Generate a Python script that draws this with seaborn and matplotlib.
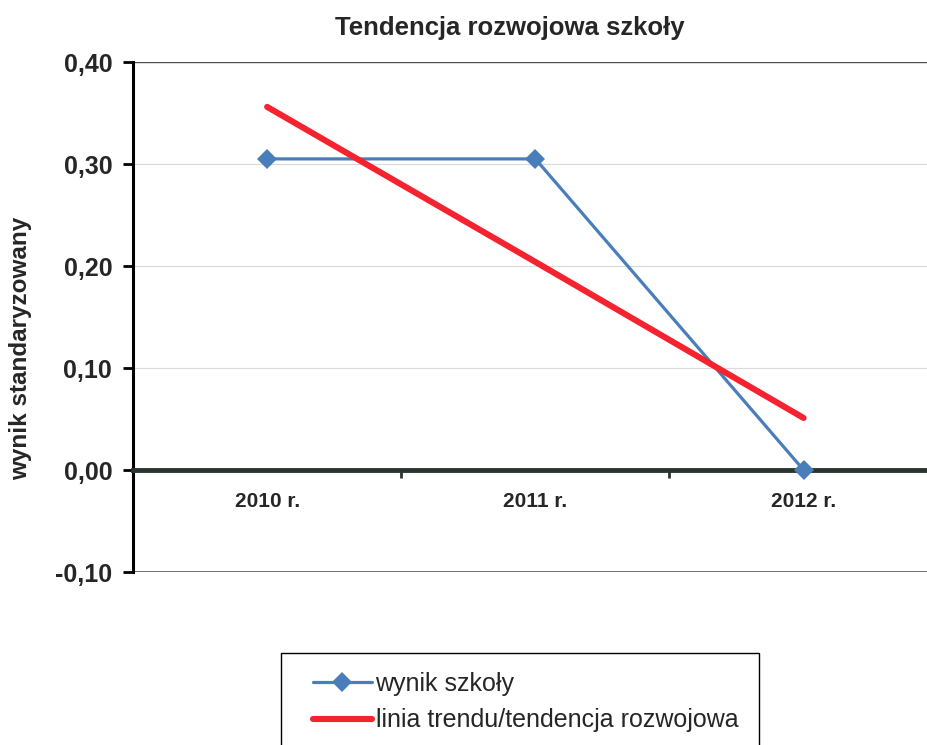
import numpy as np
import pandas as pd
import matplotlib
matplotlib.use("Agg")
import matplotlib.pyplot as plt
from matplotlib.patches import Rectangle
import seaborn as sns

years = ["2010 r.", "2011 r.", "2012 r."]
school = [0.305, 0.305, 0.0]
trend = [0.356, 0.204, 0.051]
yticks = [-0.10, 0.0, 0.10, 0.20, 0.30, 0.40]
ytick_labels = ["-0,10", "0,00", "0,10", "0,20", "0,30", "0,40"]

sns.set_style("white")
plt.rcParams["font.family"] = ["Liberation Sans", "DejaVu Sans"]

df = pd.DataFrame({"rok": years, "wynik": school, "trend": trend})

fig = plt.figure(figsize=(9.27, 7.45), dpi=100)
ax = fig.add_axes([133 / 927, 1 - 572 / 745, 1 - 133 / 927, (572 - 62) / 745])

# =============================== lines ===============================
sns.lineplot(x="rok", y="wynik", data=df, ax=ax, color="#4A7EBB", linewidth=2.3,
             marker="D", markersize=10.5, markeredgewidth=0, label="wynik szkoły", zorder=4)
sns.lineplot(x="rok", y="trend", data=df, ax=ax, color="#F4232F", linewidth=4.4,
             solid_capstyle="round", label="linia trendu/tendencja rozwojowa", zorder=5)

ax.set_xlim(-0.5, 2.46)
ax.set_ylim(-0.10, 0.40)
ax.set_xlabel("")
ax.set_ylabel("")

# y axis
ax.set_yticks(yticks)
ax.set_yticklabels(ytick_labels, fontsize=18, fontweight="bold")
ax.tick_params(axis="y", direction="out", length=7, width=2, color="black", pad=8, left=True)
ax.yaxis.grid(True, color="#d9d9d9", linewidth=0.8)
gl = ax.get_ygridlines()
gl[0].set_color("#6f6f6f")
gl[0].set_linewidth(1.4)
gl[-1].set_color("#4d4d4d")
gl[-1].set_linewidth(1.0)

# x axis at zero
ax.spines["bottom"].set_position(("data", 0))
ax.spines["bottom"].set_linewidth(3.5)
ax.spines["bottom"].set_color("#2a3530")
ax.spines["left"].set_linewidth(2.2)
ax.spines["left"].set_color("black")
ax.spines["top"].set_visible(False)
ax.spines["right"].set_visible(False)
ax.set_xticks([0, 1, 2])
ax.set_xticklabels(years, fontsize=15, fontweight="bold")
ax.set_xticks([0.5, 1.5], minor=True)
ax.tick_params(axis="x", which="major", length=0, pad=16, bottom=True)
ax.tick_params(axis="x", which="minor", direction="out", length=6, width=2,
               color="#2a3530", bottom=True)
ax.legend_.remove()

# titles
fig.text(510 / 927, 1 - 28 / 745, "Tendencja rozwojowa szkoły", ha="center", va="center",
         fontsize=18.5, fontweight="bold")
fig.text(21 / 927, 1 - 348 / 745, "wynik standaryzowany", ha="center", va="center",
         rotation=90, fontsize=17.5, fontweight="bold")

# legend
handles, labels = ax.get_legend_handles_labels()
fig.legend(handles, labels, loc="upper left", bbox_to_anchor=(313 / 927, 1 - 672 / 745),
           frameon=False, fontsize=18, borderpad=0, borderaxespad=0,
           handlelength=2.35, handletextpad=0.15, labelspacing=0.5)
fig.patches.append(Rectangle((281 / 927, -0.02), (759 - 281) / 927, 0.02 + 1 - 653 / 745,
                             transform=fig.transFigure, fill=False, edgecolor="black",
                             linewidth=1.0))

fig.savefig("out.png", dpi=100)
